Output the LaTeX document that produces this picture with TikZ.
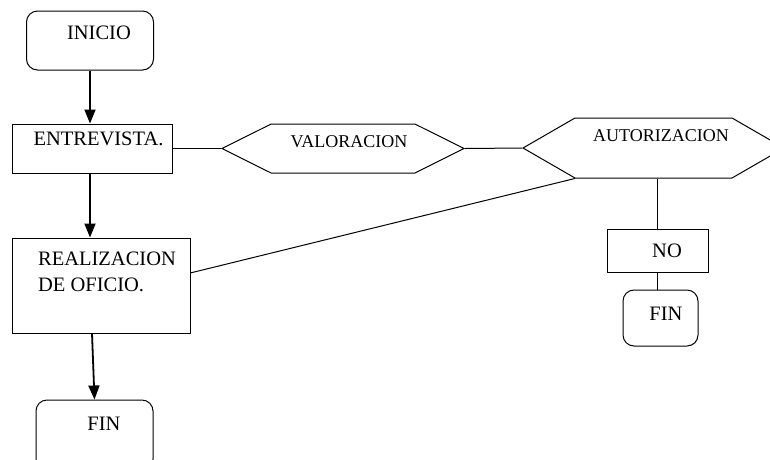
\documentclass[tikz,border=0pt]{standalone}
\usepackage{fontspec}
\setmainfont{Liberation Serif}
\usetikzlibrary{shapes.symbols,arrows.meta}

\tikzset{
  box/.style={draw, rectangle, inner sep=0pt},
  terminal/.style={box, rounded corners=11pt},
  decision/.style={draw, signal, signal to=west and east, inner sep=0pt},
  small/.style={font=\fontsize{18}{22}\selectfont},
  flow/.style={line width=1.8pt, -{Triangle[length=14pt,width=11pt]}}
}

\begin{document}
\begin{tikzpicture}[x=1pt, y=-1pt, line width=1pt, font=\fontsize{20.5}{26}\selectfont]
\useasboundingbox (0,0) rectangle (770,459);
\node[terminal, minimum width=127pt, minimum height=59pt, label={[shift={(9,-7.5)}]center:INICIO}] (inicio) at (90,40.5) {};
\node[box, minimum width=160pt, minimum height=49pt, label={[shift={(6.5,-9.5)}]center:ENTREVISTA.}] (entrevista) at (92,148.5) {};
\node[decision, signal pointer angle=53, minimum width=242pt, minimum height=49pt, label={[small, shift={(6,-7)}]center:VALORACION}] (valoracion) at (343,148.5) {};
\node[decision, signal pointer angle=60, minimum width=261pt, minimum height=60pt, label={[small, shift={(7.5,-12)}]center:AUTORIZACION}] (autorizacion) at (653.5,148) {};
\node[box, minimum width=178pt, minimum height=95pt, label={[align=left, shift={(6,-14)}]center:{REALIZACION\\DE OFICIO.}}] (realizacion) at (101,285.5) {};
\node[box, minimum width=101pt, minimum height=43pt, label={[shift={(9.5,0)}]center:NO}] (no) at (657.5,250.5) {};
\node[terminal, minimum width=75pt, minimum height=56pt, label={[shift={(5.5,-4.5)}]center:FIN}] (finno) at (660.5,318) {};
\node[terminal, minimum width=117pt, minimum height=70pt, label={[shift={(9.5,-11.5)}]center:FIN}] (fin) at (94.5,435) {};
\draw[flow] (inicio.south) -- (inicio.south |- entrevista.north);
\draw[flow] (entrevista.south -| inicio.south) -- (inicio.south |- realizacion.north);
\draw[flow] ([xshift=-9pt]realizacion.south) -- (fin.north);
\draw (entrevista.east) -- (valoracion.west);
\draw (valoracion.east) -- (autorizacion.west);
\draw (autorizacion.south west) -- (realizacion.8);
\draw (autorizacion.south -| no.north) -- (no.north);
\draw (no.south) -- (no.south |- finno.north);
\end{tikzpicture}
\end{document}
